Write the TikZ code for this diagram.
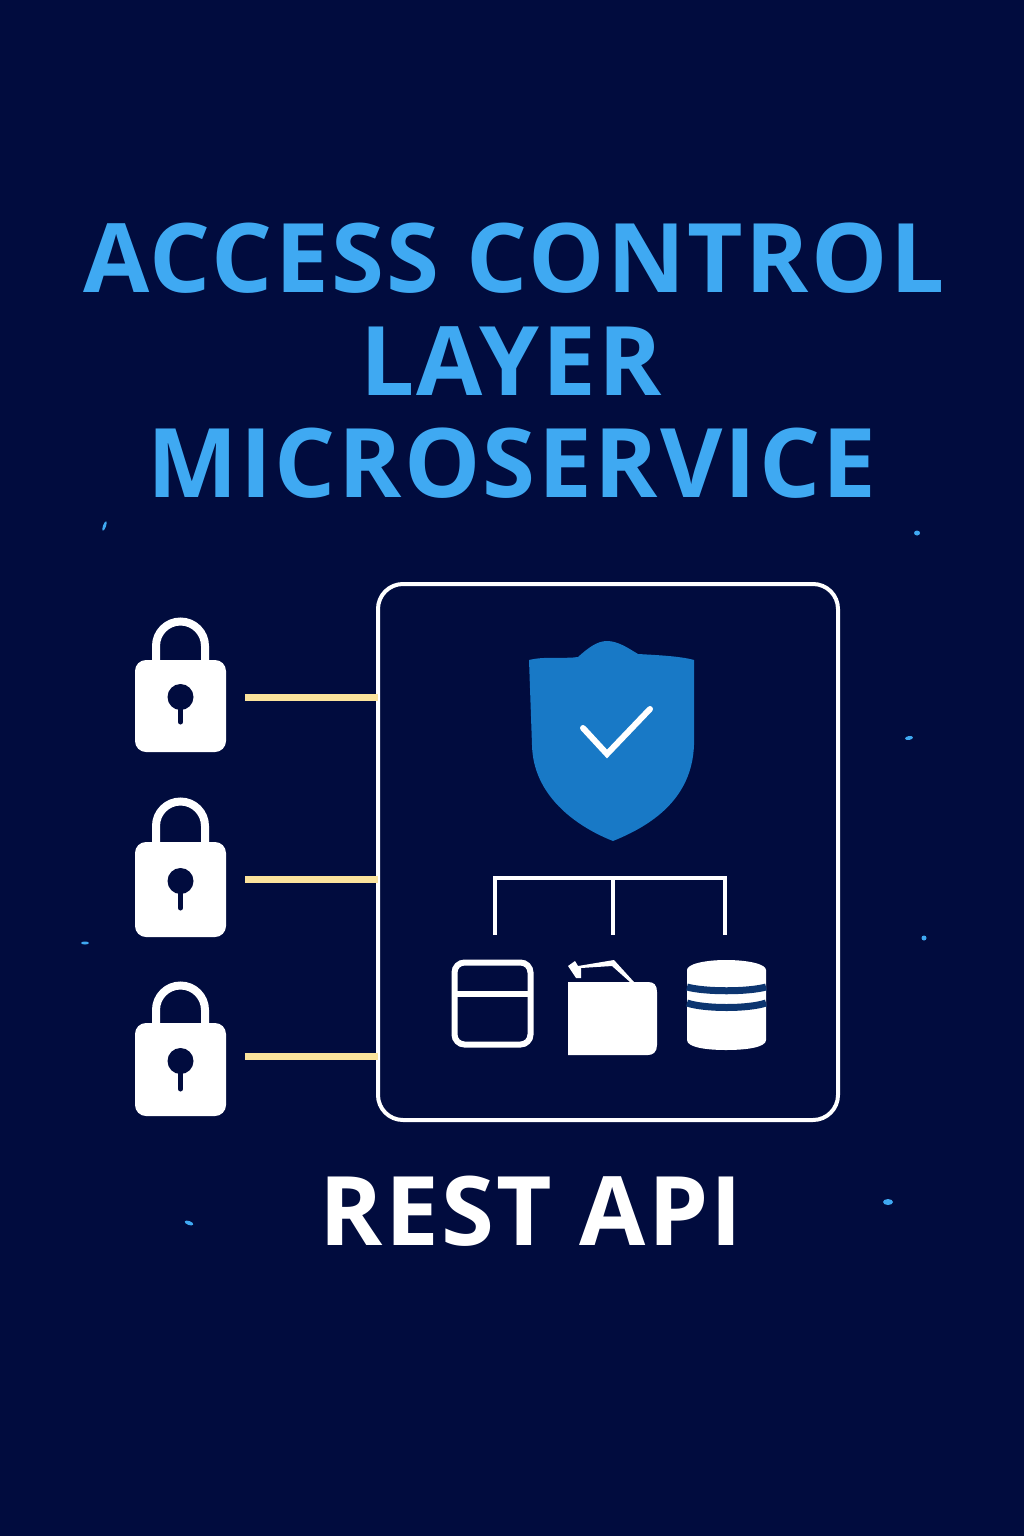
\documentclass[tikz,border=0pt]{standalone}
\usepackage{fontspec}
\setmainfont{Open Sans}[LetterSpace=2.5]
\usepackage{tikz}
\definecolor{navy}{HTML}{010C3E}
\definecolor{skyblue}{HTML}{3FA9F2}
\definecolor{shieldblue}{HTML}{1879C6}
\definecolor{wireyellow}{HTML}{FBE39C}
\definecolor{bandblue}{HTML}{0C3570}
\tikzstyle{every node}=[inner sep=0,outer sep=0]
\tikzstyle{titletext}=[anchor=base,text=skyblue,font=\fontsize{96}{96}\selectfont\bfseries]
\tikzstyle{apitext}=[anchor=base,text=white,font=\fontsize{96}{96}\selectfont\bfseries]
\tikzstyle{lockbody}=[rectangle,
                      fill=white,
                      rounded corners=11pt,
                      minimum width=91pt]
\tikzstyle{keyhole}=[circle,fill=navy,minimum size=26pt]
\tikzstyle{shackle}=[draw=white,line width=8pt]
\tikzstyle{stem}=[draw=navy,line width=5pt,line cap=round]
\tikzstyle{wire}=[draw=wireyellow,line width=7pt]
\tikzstyle{bus}=[draw=white,line width=4pt]
\begin{document}
\begin{tikzpicture}[x=1pt,y=-1pt]
\useasboundingbox[fill=navy] (0,0) rectangle (1024,1536);
% title
\node (title1) [titletext] at (514,292) {ACCESS CONTROL};
\node (title2) [titletext] at (511,395) {LAYER};
\node (title3) [titletext] at (512,497) {MICROSERVICE};
\node (api) [apitext] at (531,1245) {REST API};
% service box
\node (panel) [draw=white,line width=4pt,rounded corners=25pt,minimum width=460pt,minimum height=536pt] at (608,852) {};
% locks
\foreach \i/\c/\h/\k/\e/\l/\s in {1/706/92/697/722/697/14,2/889.5/95/881/908/879/16,3/1069.5/93/1061/1089/1056/13}{
  \node (lock\i) [lockbody,minimum height=\h pt] at (180.5,\c) {};
  \draw[shackle] ([xshift=-24.5pt]lock\i.north) -- ++(0,-\s) arc[start angle=180,end angle=0,radius=24.5pt] -- ([xshift=24.5pt]lock\i.north);
  \node (hole\i) [keyhole] at (180.5,\k) {};
  \coordinate (tip\i) at (180.5,\e);
  \draw[stem] (hole\i.center) -- (tip\i);
  \coordinate (port\i) at (245,\l);
  \draw[wire] (port\i) -- (port\i -| panel.west);
}
% shield
\fill[shieldblue] (529,660) .. controls (545,656) and (565,659) .. (578,657)
  .. controls (588,648) and (597,641) .. (607,641)
  .. controls (618,641) and (628,648) .. (638,654)
  .. controls (655,655) and (680,656) .. (694,660)
  -- (694,745) .. controls (692,800) and (650,826) .. (613,841)
  .. controls (575,826) and (533,795) .. (532,745) -- cycle;
\coordinate (check1) at (583,728);
\coordinate (check2) at (607,754);
\coordinate (check3) at (650,709);
\draw[white,line width=6pt,line cap=round] (check1) -- (check2) -- (check3);
% tree
\coordinate (leg1) at (495,935);
\coordinate (leg2) at (613,935);
\coordinate (leg3) at (725,935);
\coordinate (bus1) at (495,878);
\coordinate (bus3) at (725,878);
\draw[bus,line cap=rect] (bus1) -- (bus3);
\draw[bus] (bus1) -- (leg1);
\draw[bus] (bus1 -| leg2) -- (leg2);
\draw[bus] (bus3) -- (leg3);
% window icon
\node (window) [draw=white,line width=6pt,rounded corners=10pt,minimum width=76pt,minimum height=82pt] at (492.5,1003.5) {};
\draw[white,line width=6pt] (window.west |- 0,994) -- (window.east |- 0,994);
% folder icon
\node (folder) [minimum width=89pt,minimum height=73pt] at (612.5,1018.5) {};
\fill[white] (568,982) -- (648,982) .. controls (654,982) and (657,985) .. (657,992)
  -- (657,1045) .. controls (657,1052) and (653,1055) .. (648,1055) -- (568,1055) -- cycle;
\fill[white] (568,966) -- (575,961) -- (578,966) -- (614,960) -- (634,982) -- (630,982) -- (612,966) -- (581,968) -- (581,978) -- (576,978) -- cycle;
% database icon
\node (db) [minimum width=79pt,minimum height=90pt] at (726.5,1005) {};
\fill[white] (687,970) .. controls (687,964) and (705,960) .. (726,960)
  .. controls (748,960) and (766,964) .. (766,970)
  -- (766,1040) .. controls (766,1047) and (748,1050) .. (726,1050)
  .. controls (705,1050) and (687,1047) .. (687,1040) -- cycle;
\draw[bandblue,line width=7pt] (db.west |- 0,987) .. controls (705,992) and (748,992) .. (db.east |- 0,987);
\draw[bandblue,line width=7pt] (db.west |- 0,1003) .. controls (705,1009) and (748,1009) .. (db.east |- 0,1003);
% sparks
\foreach \n/\x/\y/\w/\t/\r in {1/104.5/526/3/10/-20,2/917/533/6/5/0,3/909/738/8/4/10,4/85/943/8/3/0,5/924/938/5/5/0,6/888/1202/10/6/0,7/189/1223/9/4/-20}{
  \fill[skyblue,rotate around={\r:(\x,\y)}] (\x,\y) ellipse[x radius=\w/2,y radius=\t/2];
}
\end{tikzpicture}
\end{document}
